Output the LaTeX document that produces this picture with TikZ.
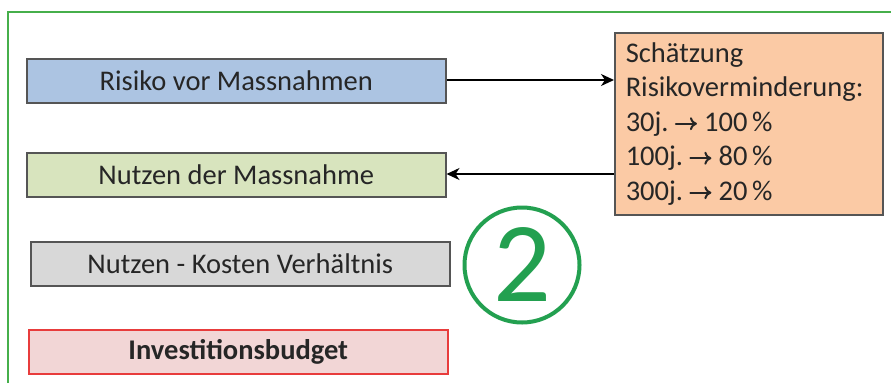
\documentclass[tikz,border=0pt]{standalone}
\usepackage{fontspec}
\setmainfont{Carlito}
\usetikzlibrary{arrows.meta}
\definecolor{frameg}{RGB}{70,175,75}
\definecolor{circg}{RGB}{35,160,80}
\definecolor{bluef}{RGB}{172,196,226}
\definecolor{greenf}{RGB}{216,228,190}
\definecolor{greyf}{RGB}{216,216,216}
\definecolor{redf}{RGB}{242,214,214}
\definecolor{redb}{RGB}{232,60,60}
\definecolor{orangef}{RGB}{251,202,165}
\definecolor{boxb}{RGB}{85,85,85}
\newcommand{\ar}{\hspace{0.22em}\tikz[baseline=-7.5pt,x=1pt,y=1pt]\draw[line width=2pt,black!85,line cap=round,-{To[length=7pt,width=13pt,line width=2pt]}] (0,0) -- (21,0);\hspace{0.22em}}
\newcommand{\pc}{\hspace{0.16em}\%}
\begin{document}
\begin{tikzpicture}[x=1pt,y=-1pt,
  bar/.style={draw=boxb,line width=1.5pt,minimum width=419pt,minimum height=44pt,inner sep=0pt,anchor=north west,font=\fontsize{28.5}{28.5}\selectfont,text=black!85},
  conn/.style={line width=1.6pt,-{Stealth[length=13pt,width=12pt,inset=4pt]}}]
\useasboundingbox (0,0) rectangle (891,383);
\fill[white] (0,0) rectangle (891,383);
\draw[frameg,line width=1.3pt] (8,383) -- (8,12) -- (891,12);
\node[bar,fill=bluef] (risk) at (26,58) {Risiko vor Massnahmen};
\node[bar,fill=greenf] (nutzen) at (26,152) {Nutzen der Massnahme};
\node[bar,fill=greyf] (nkv) at (30,241) {Nutzen - Kosten Verhältnis};
\node[bar,fill=redf,draw=redb,font=\fontsize{28.5}{28.5}\selectfont\bfseries] (budget) at (28,329) {Investitionsbudget};
\node[draw=boxb,line width=1.5pt,fill=orangef,anchor=north west,minimum width=268pt,minimum height=182pt,text width=246pt,inner xsep=11pt,align=left,font=\fontsize{28.5}{34.5}\selectfont,text=black!85] (est) at (614,32)
 {Schätzung\\Risikoverminderung:\\30j.\ar100\pc\\100j.\ar80\pc\\300j.\ar20\pc};
\coordinate (a1s) at (risk.east |- 0,80);
\coordinate (a1e) at (est.west |- 0,80);
\coordinate (a2s) at (est.west |- 0,174);
\coordinate (a2e) at (nutzen.east |- 0,174);
\draw[conn] (a1s) -- (a1e);
\draw[conn] (a2s) -- (a2e);
\node[circle,draw=circg,line width=4pt,minimum size=115pt,inner sep=0pt,text=circg,font=\fontsize{114}{114}\selectfont] (two) at (522,265) {2};
\end{tikzpicture}
\end{document}
